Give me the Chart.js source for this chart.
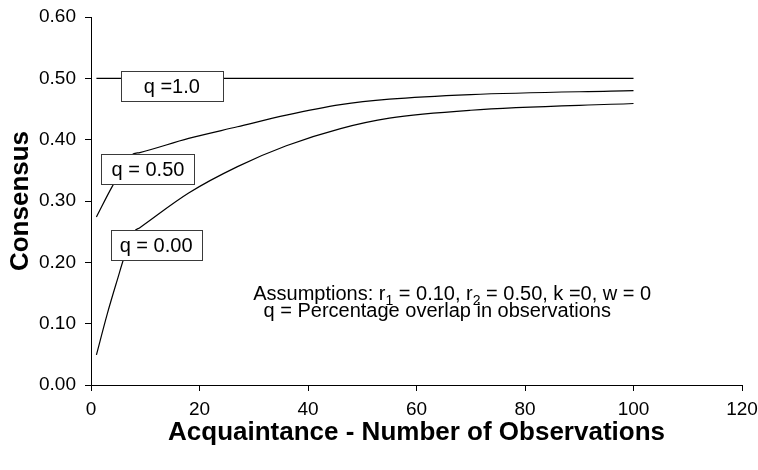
<!DOCTYPE html>
<html><head><meta charset="utf-8">
<script src="https://cdn.jsdelivr.net/npm/chart.js@4/dist/chart.umd.min.js"></script>
<style>html,body{margin:0;padding:0;background:#fff}</style>
</head><body>
<canvas id="c" width="758" height="470"></canvas>
<script>
// ---- data ----
const obsQ100 = [1, 100];
const consQ100 = [0.50, 0.50];
const obsQ50 = [1, 4, 7.5, 9, 18, 27, 36, 46, 55, 70, 100];
const consQ50 = [0.274, 0.325, 0.3752, 0.379, 0.402, 0.421, 0.440, 0.457, 0.466, 0.4735, 0.480];
const obsQ0 = [1, 3, 5, 6, 8, 9, 18, 27, 36, 46, 55, 70, 100];
const consQ0 = [0.049, 0.116, 0.176, 0.205, 0.2503, 0.2565, 0.313, 0.356, 0.390, 0.418, 0.435, 0.448, 0.459];
const seriesNames = ['q =1.0', 'q = 0.50', 'q = 0.00'];
const xTickValues = [0, 20, 40, 60, 80, 100, 120];
const yTickValues = [0, 0.1, 0.2, 0.3, 0.4, 0.5, 0.6];
const xTitle = 'Acquaintance - Number of Observations';
const yTitle = 'Consensus';
const noteLine1 = [['Assumptions: r', false], ['1', true], [' = 0.10, r', false], ['2', true], [' = 0.50, k =0, w = 0', false]];
const noteLine2 = [['q = Percentage overlap in observations', false]];

// ---- placement of labels (data coordinates) ----
const boxPlacement = [
  {x: 14.9, y: 0.4875, padX: 23},
  {x: 10.5, y: 0.352, padX: 10},
  {x: 12.0, y: 0.2275, padX: 9}
];
const notePlacement = [{x: 29.9, y: 0.1386}, {x: 31.8, y: 0.111}];

const FONT = "'Liberation Sans', Arial, sans-serif";

function toXY(xs, ys) { return xs.map((x, i) => ({x: x, y: ys[i]})); }

const labelPlugin = {
  id: 'labels',
  afterDatasetsDraw(chart) {
    const ctx = chart.ctx, xs = chart.scales.x, ys = chart.scales.y;
    ctx.save();
    ctx.font = '20px ' + FONT;
    seriesNames.forEach((t, i) => {
      const p = boxPlacement[i];
      const cx = xs.getPixelForValue(p.x), cy = ys.getPixelForValue(p.y);
      const w = Math.round(ctx.measureText(t).width + 2 * p.padX), h = 30;
      const l = Math.round(cx - w / 2) + 0.5, tp = Math.round(cy - h / 2) + 0.5;
      ctx.fillStyle = '#fff';
      ctx.fillRect(l, tp, w, h);
      ctx.strokeStyle = '#3a3a3a';
      ctx.lineWidth = 1;
      ctx.strokeRect(l, tp, w, h);
      ctx.fillStyle = '#000';
      ctx.textAlign = 'center';
      ctx.textBaseline = 'middle';
      ctx.fillText(t, cx, cy + 1);
    });
    [noteLine1, noteLine2].forEach((segs, i) => {
      const p = notePlacement[i];
      let x = xs.getPixelForValue(p.x);
      const y = ys.getPixelForValue(p.y);
      ctx.textAlign = 'left';
      ctx.textBaseline = 'alphabetic';
      ctx.fillStyle = '#000';
      segs.forEach(([t, sub]) => {
        ctx.font = (sub ? '14px ' : '20px ') + FONT;
        ctx.fillText(t, x, sub ? y + 5 : y);
        x += ctx.measureText(t).width;
      });
    });
    ctx.restore();
  }
};

const lineStyle = {borderColor: '#000', borderWidth: 1.2, pointRadius: 0, fill: false, cubicInterpolationMode: 'monotone'};

new Chart(document.getElementById('c'), {
  type: 'line',
  data: {
    datasets: [
      Object.assign({label: seriesNames[0], data: toXY(obsQ100, consQ100)}, lineStyle),
      Object.assign({label: seriesNames[1], data: toXY(obsQ50, consQ50)}, lineStyle),
      Object.assign({label: seriesNames[2], data: toXY(obsQ0, consQ0)}, lineStyle)
    ]
  },
  options: {
    responsive: false,
    devicePixelRatio: 1,
    animation: false,
    layout: {padding: {top: 17, right: 16, left: 0, bottom: 0}},
    plugins: {legend: {display: false}, tooltip: {enabled: false}},
    scales: {
      x: {
        type: 'linear', min: 0, max: 120,
        afterBuildTicks(s) { s.ticks = xTickValues.map(v => ({value: v})); },
        afterFit(s) { s.height = 85; s.paddingLeft = 0; s.paddingRight = 0; },
        ticks: {color: '#000', font: {family: FONT, size: 19}, padding: 7, maxRotation: 0},
        grid: {drawOnChartArea: false, drawTicks: true, tickLength: 6, color: '#000', lineWidth: 1},
        border: {display: true, color: '#000', width: 1},
        title: {display: true, text: xTitle, color: '#000', font: {family: FONT, size: 26, weight: 'bold'}, padding: {top: 0, bottom: 22}}
      },
      y: {
        min: 0, max: 0.6,
        afterBuildTicks(s) { s.ticks = yTickValues.map(v => ({value: v})); },
        afterFit(s) { s.width = 91; s.paddingTop = 0; s.paddingBottom = 0; },
        ticks: {color: '#000', font: {family: FONT, size: 19}, padding: 9, callback: v => Number(v).toFixed(2)},
        grid: {drawOnChartArea: false, drawTicks: true, tickLength: 6, color: '#000', lineWidth: 1},
        border: {display: true, color: '#000', width: 1},
        title: {display: true, text: yTitle, color: '#000', font: {family: FONT, size: 26, weight: 'bold'}, padding: {top: 5, bottom: 0}}
      }
    }
  },
  plugins: [labelPlugin]
});
</script>
</body></html>
